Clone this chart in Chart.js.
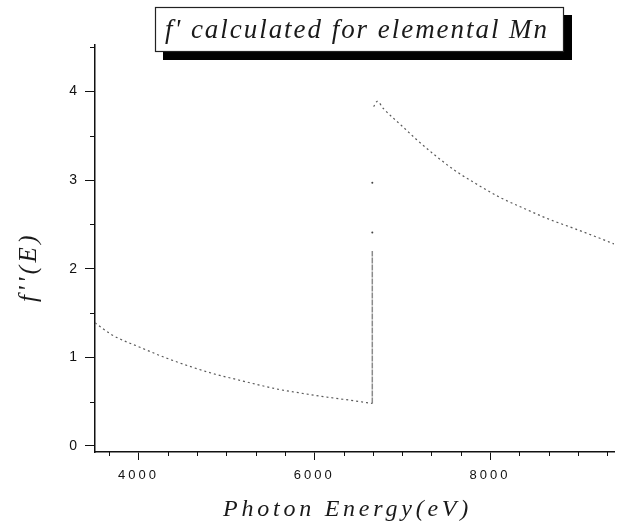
<!DOCTYPE html>
<html>
<head>
<meta charset="utf-8">
<script src="https://cdn.jsdelivr.net/npm/chart.js@4.4.1/dist/chart.umd.min.js"></script>
<style>
  html, body { margin: 0; padding: 0; background: #fff; }
  #wrap { width: 618px; height: 528px; }
</style>
</head>
<body>
<div id="wrap"><canvas id="c" width="618" height="528"></canvas></div>
<script>
// f'' for elemental Mn
const leftEnergy = [3505, 3706, 4027, 4271, 4610, 4874, 5138, 5364, 5590, 5891, 6192, 6456, 6660];
const leftF2 = [1.39, 1.25, 1.11, 1.01, 0.89, 0.81, 0.745, 0.69, 0.64, 0.59, 0.545, 0.51, 0.48];

const edgeEnergy = [6660, 6660];
const edgeF2 = [0.48, 2.2];
const edgeDotEnergy = [6660, 6660];
const edgeDotF2 = [2.41, 2.97];

const rightEnergy = [6675, 6717, 6785, 7011, 7162, 7388, 7614, 7840, 8104, 8367, 8669, 8970, 9234, 9410];
const rightF2 = [3.83, 3.89, 3.81, 3.60, 3.46, 3.27, 3.10, 2.96, 2.81, 2.69, 2.56, 2.45, 2.35, 2.28];

const xTicks = [4000, 6000, 8000];
const yTicks = [0, 1, 2, 3, 4];

const titleText = "f' calculated for elemental Mn";
const xTitle = "Photon Energy(eV)";
const yTitle = "f''(E)";

const pts = (xs, ys) => xs.map((x, i) => ({ x: x, y: ys[i] }));

// draws text stretched to a given width with letter spacing
function spacedText(ctx, text, x, y, width, font) {
    ctx.font = font;
    ctx.letterSpacing = "0px";
    const w0 = ctx.measureText(text).width;
    const sp = Math.max(0, (width - w0) / text.length);
    ctx.letterSpacing = sp + "px";
    ctx.fillText(text, x, y);
}

const decorations = {
    id: "decorations",
    beforeDraw(chart) {
        chart.ctx.letterSpacing = "3px";
    },
    afterDraw(chart) {
        const ctx = chart.ctx;
        const xs = chart.scales.x;
        const ys = chart.scales.y;
        const area = chart.chartArea;
        ctx.save();
        ctx.letterSpacing = "0px";

        // minor ticks
        ctx.strokeStyle = "#111";
        ctx.lineWidth = 1;
        ctx.beginPath();
        for (let k = 1; k < 30; k++) {
            const v = 3000 + k * 2000 / 6;
            if (v < xs.min || v > xs.max) continue;
            if (Math.abs(v / 2000 - Math.round(v / 2000)) < 1e-6) continue;
            const px = Math.round(xs.getPixelForValue(v)) + 0.5;
            ctx.moveTo(px, area.bottom);
            ctx.lineTo(px, area.bottom + 4);
        }
        for (let v = 0.5; v < ys.max; v += 1) {
            const py = Math.round(ys.getPixelForValue(v)) + 0.5;
            ctx.moveTo(area.left, py);
            ctx.lineTo(area.left - 5, py);
        }
        ctx.stroke();

        // title box with drop shadow
        ctx.fillStyle = "#000";
        ctx.fillRect(163, 52, 409, 8);
        ctx.fillRect(564, 15, 8, 45);
        ctx.fillStyle = "#fff";
        ctx.fillRect(155, 7, 409, 45);
        ctx.strokeStyle = "#222";
        ctx.lineWidth = 1.2;
        ctx.strokeRect(155.5, 7.5, 408, 44);

        ctx.fillStyle = "#1a1a1a";
        ctx.textAlign = "left";
        ctx.textBaseline = "alphabetic";
        spacedText(ctx, titleText, 165, 38, 384, 'italic 27px "Liberation Serif", "DejaVu Serif", serif');

        // axis titles
        spacedText(ctx, xTitle, 223, 516, 249, 'italic 24px "Liberation Serif", "DejaVu Serif", serif');
        ctx.translate(36, 302);
        ctx.rotate(-Math.PI / 2);
        spacedText(ctx, yTitle, 0, 0, 70, 'italic 25px "Liberation Serif", "DejaVu Serif", serif');
        ctx.restore();
    },
};

new Chart(document.getElementById("c"), {
    type: "scatter",
    data: {
        datasets: [
            {
                data: pts(leftEnergy, leftF2),
                showLine: true,
                borderColor: "#5a5a5a",
                borderWidth: 1.2,
                borderDash: [2, 3],
                pointRadius: 0,
                cubicInterpolationMode: "monotone",
            },
            {
                data: pts(edgeEnergy, edgeF2),
                showLine: true,
                borderColor: "#8a8a8a",
                borderWidth: 1.5,
                borderDash: [6, 1],
                pointRadius: 0,
            },
            {
                data: pts(edgeDotEnergy, edgeDotF2),
                showLine: false,
                pointRadius: 1,
                pointBackgroundColor: "#444",
                pointBorderWidth: 0,
            },
            {
                data: pts(rightEnergy, rightF2),
                showLine: true,
                borderColor: "#5a5a5a",
                borderWidth: 1.2,
                borderDash: [2, 3],
                pointRadius: 0,
                cubicInterpolationMode: "monotone",
            },
        ],
    },
    options: {
        responsive: false,
        animation: false,
        layout: { padding: { top: 45, left: 0, right: 0, bottom: 0 } },
        plugins: {
            legend: { display: false },
            tooltip: { enabled: false },
        },
        scales: {
            x: {
                type: "linear",
                min: 3505,
                max: 9410,
                afterBuildTicks: (s) => { s.ticks = xTicks.map((v) => ({ value: v })); },
                afterFit: (s) => { s.height = 76; },
                ticks: {
                    color: "#111",
                    font: { family: '"Liberation Sans", Arial, sans-serif', size: 13 },
                    padding: 8,
                    maxRotation: 0,
                    callback: (v) => String(v),
                },
                grid: { drawOnChartArea: false, tickLength: 8, tickColor: "#111", tickWidth: 1 },
                border: { color: "#111", width: 1.5 },
            },
            y: {
                type: "linear",
                min: -0.068,
                max: 4.526,
                afterBuildTicks: (s) => { s.ticks = yTicks.map((v) => ({ value: v })); },
                afterFit: (s) => { s.width = 95; },
                ticks: {
                    color: "#111",
                    font: { family: '"Liberation Sans", Arial, sans-serif', size: 14 },
                    padding: 5,
                    callback: (v) => String(v),
                },
                grid: { drawOnChartArea: false, tickLength: 10, tickColor: "#111", tickWidth: 1 },
                border: { color: "#111", width: 1.5 },
            },
        },
    },
    plugins: [decorations],
});
</script>
</body>
</html>
